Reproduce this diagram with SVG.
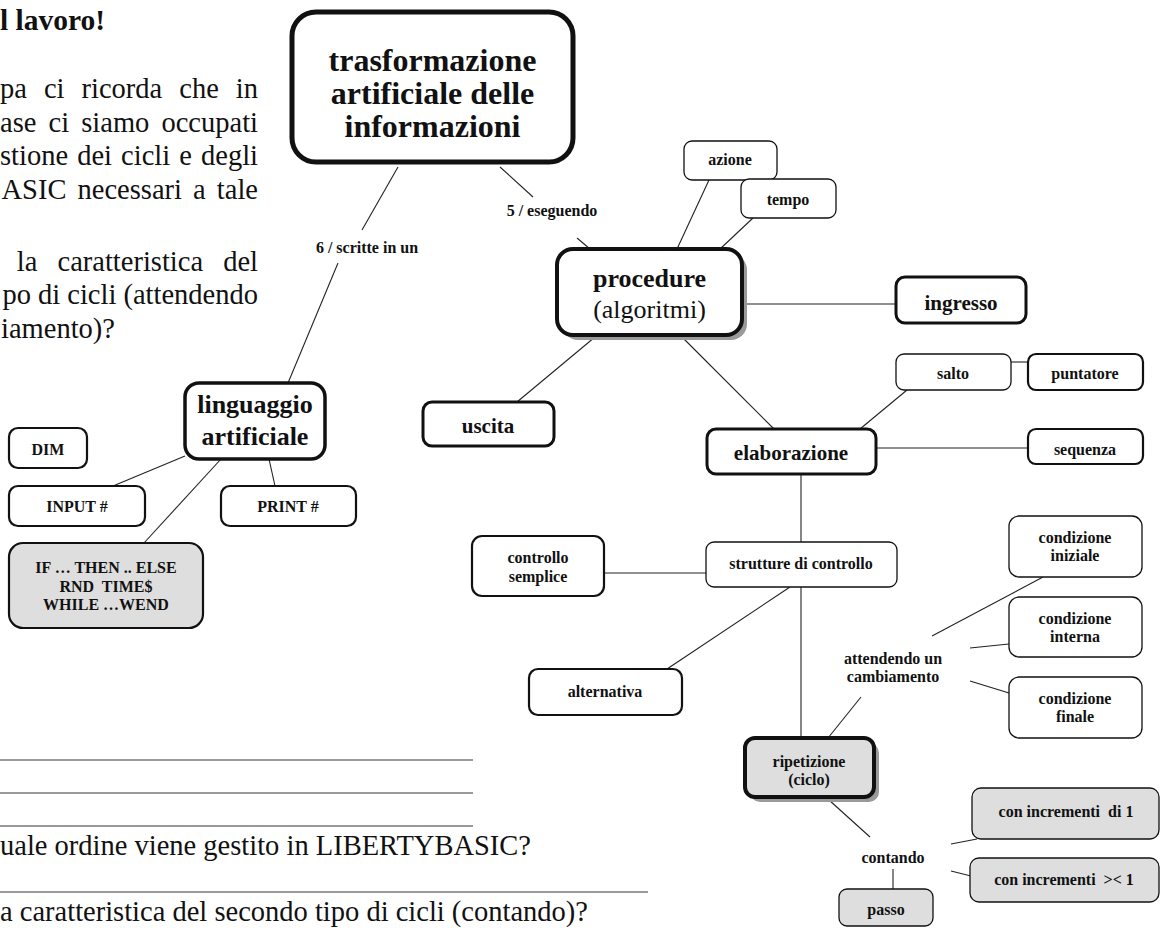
<svg xmlns="http://www.w3.org/2000/svg" width="1161" height="928" viewBox="0 0 1161 928">
  <style>
    text { font-family: "Liberation Serif", serif; fill: #111; }
    .body { font-size: 28.5px; }
    .head { font-size: 29.5px; font-weight: bold; }
    .lbl { font-size: 16px; font-weight: bold; text-anchor: middle; }
    .mid { font-size: 21px; font-weight: bold; text-anchor: middle; }
    .big { font-size: 26px; font-weight: bold; text-anchor: middle; }
    .root { font-size: 32px; font-weight: bold; text-anchor: middle; }
    .box { fill: #fff; stroke: #111; }
    .thin { stroke-width: 1.3; }
    .med { stroke-width: 2.2; }
    .bold { stroke-width: 3; }
    .grey { fill: #dedede; }
    .shadow { fill: #9a9a9a; stroke: none; }
    .rule { stroke: #777; stroke-width: 1.5; }
    #connectors line { stroke: #222; stroke-width: 1.1; }
  </style>

  <!-- worksheet text around the map -->
  <g id="worksheet">
    <text class="head" x="0" y="30">l lavoro!</text>
    <text class="body" x="0" y="98" word-spacing="9.9" textLength="258" lengthAdjust="spacing">pa ci ricorda che in</text>
    <text class="body" x="0" y="132" word-spacing="5" textLength="258" lengthAdjust="spacing">ase ci siamo occupati</text>
    <text class="body" x="0" y="165" word-spacing="2" textLength="258" lengthAdjust="spacing">stione dei cicli e degli</text>
    <text class="body" x="258" y="199" text-anchor="end" word-spacing="4">ASIC necessari a tale</text>
    <text class="body" x="258" y="271" text-anchor="end" word-spacing="13">la caratteristica del</text>
    <text class="body" x="258" y="304" text-anchor="end">po di cicli (attendendo</text>
    <text class="body" x="1" y="338">iamento)?</text>
    <line class="rule" x1="0" y1="760" x2="473" y2="760"/>
    <line class="rule" x1="0" y1="793" x2="473" y2="793"/>
    <line class="rule" x1="0" y1="826" x2="473" y2="826"/>
    <text class="body" x="0" y="855">uale ordine viene gestito in LIBERTYBASIC?</text>
    <line class="rule" x1="0" y1="892" x2="648" y2="892"/>
    <text class="body" x="0" y="921">a caratteristica del secondo tipo di cicli (contando)?</text>
  </g>

  <!-- connectors -->
  <g id="connectors">
    <line x1="398" y1="167" x2="362" y2="230"/>
    <line x1="338" y1="263" x2="288" y2="383"/>
    <line x1="500" y1="167" x2="533" y2="197"/>
    <line x1="577" y1="238" x2="590" y2="249"/>
    <line x1="677" y1="249" x2="709" y2="180"/>
    <line x1="720" y1="249" x2="753" y2="218"/>
    <line x1="744" y1="304" x2="896" y2="304"/>
    <line x1="595" y1="337" x2="517" y2="402"/>
    <line x1="684" y1="339" x2="774" y2="429"/>
    <line x1="860" y1="429" x2="907" y2="390"/>
    <line x1="1011" y1="362" x2="1028" y2="362"/>
    <line x1="876" y1="448" x2="1028" y2="448"/>
    <line x1="801" y1="474" x2="801" y2="542"/>
    <line x1="604" y1="573" x2="706" y2="573"/>
    <line x1="790" y1="587" x2="667" y2="669"/>
    <line x1="801" y1="587" x2="801" y2="738"/>
    <line x1="828" y1="738" x2="861" y2="697"/>
    <line x1="932" y1="636" x2="1043" y2="577"/>
    <line x1="970" y1="648" x2="1009" y2="644"/>
    <line x1="970" y1="681" x2="1009" y2="693"/>
    <line x1="829" y1="800" x2="870" y2="837"/>
    <line x1="893" y1="869" x2="893" y2="889"/>
    <line x1="951" y1="844" x2="977" y2="839"/>
    <line x1="951" y1="871" x2="971" y2="876"/>
    <line x1="185" y1="456" x2="113" y2="486"/>
    <line x1="269" y1="459" x2="275" y2="486"/>
    <line x1="221" y1="459" x2="144" y2="543"/>
  </g>

  <!-- root concept -->
  <g id="trasformazione">
    <rect class="box" x="292" y="12" width="281" height="150" rx="24" stroke-width="5"/>
    <text class="root" x="432.5" y="71">trasformazione</text>
    <text class="root" x="432.5" y="104">artificiale delle</text>
    <text class="root" x="432.5" y="137">informazioni</text>
  </g>

  <!-- linking phrases -->
  <g id="link-scritte"><text class="lbl" x="367" y="253">6 / scritte in un</text></g>
  <g id="link-eseguendo"><text class="lbl" x="552" y="216">5 / eseguendo</text></g>
  <g id="link-attendendo">
    <text class="lbl" x="893" y="664">attendendo un</text>
    <text class="lbl" x="893" y="682">cambiamento</text>
  </g>
  <g id="link-contando"><text class="lbl" x="893" y="863">contando</text></g>

  <g id="procedure">
    <rect class="shadow" x="562" y="254" width="185" height="86" rx="16"/>
    <rect class="box" x="557" y="249" width="185" height="86" rx="16" stroke-width="4"/>
    <text class="big" x="649.5" y="287">procedure</text>
    <text x="649.5" y="318" style="font-size:26px;text-anchor:middle">(algoritmi)</text>
  </g>

  <g id="azione">
    <rect class="box thin" x="684" y="141" width="93" height="39" rx="8"/>
    <text class="lbl" x="730" y="165">azione</text>
  </g>
  <g id="tempo">
    <rect class="box thin" x="741" y="179" width="95" height="39" rx="8"/>
    <text class="lbl" x="788" y="205">tempo</text>
  </g>

  <g id="ingresso">
    <rect class="box bold" x="896" y="277" width="130" height="46" rx="9"/>
    <text class="mid" x="961" y="310">ingresso</text>
  </g>
  <g id="salto">
    <rect class="box thin" x="896" y="354" width="115" height="36" rx="8"/>
    <text class="lbl" x="953" y="379">salto</text>
  </g>
  <g id="puntatore">
    <rect class="box med" x="1028" y="354" width="115" height="36" rx="8"/>
    <text class="lbl" x="1085" y="379">puntatore</text>
  </g>
  <g id="sequenza">
    <rect class="box med" x="1028" y="429" width="115" height="35" rx="8"/>
    <text class="lbl" x="1085" y="455">sequenza</text>
  </g>
  <g id="elaborazione">
    <rect class="box bold" x="707" y="429" width="169" height="45" rx="9"/>
    <text class="mid" x="791" y="460">elaborazione</text>
  </g>
  <g id="uscita">
    <rect class="box bold" x="423" y="402" width="131" height="44" rx="9"/>
    <text class="mid" x="488" y="433">uscita</text>
  </g>

  <g id="controllo-semplice">
    <rect class="box med" x="472" y="536" width="132" height="60" rx="10"/>
    <text class="lbl" x="538" y="563">controllo</text>
    <text class="lbl" x="538" y="582">semplice</text>
  </g>
  <g id="strutture-di-controllo">
    <rect class="box thin" x="706" y="542" width="191" height="45" rx="8"/>
    <text class="lbl" x="801" y="569">strutture di controllo</text>
  </g>
  <g id="alternativa">
    <rect class="box med" x="529" y="669" width="153" height="46" rx="9"/>
    <text class="lbl" x="605" y="697">alternativa</text>
  </g>

  <g id="condizione-iniziale">
    <rect class="box thin" x="1009" y="516" width="133" height="61" rx="10"/>
    <text class="lbl" x="1075" y="543">condizione</text>
    <text class="lbl" x="1075" y="561">iniziale</text>
  </g>
  <g id="condizione-interna">
    <rect class="box thin" x="1009" y="597" width="133" height="60" rx="10"/>
    <text class="lbl" x="1075" y="624">condizione</text>
    <text class="lbl" x="1075" y="642">interna</text>
  </g>
  <g id="condizione-finale">
    <rect class="box thin" x="1009" y="677" width="133" height="61" rx="10"/>
    <text class="lbl" x="1075" y="704">condizione</text>
    <text class="lbl" x="1075" y="722">finale</text>
  </g>

  <g id="ripetizione">
    <rect class="shadow" x="750" y="743" width="129" height="59" rx="10"/>
    <rect class="box grey" x="745" y="738" width="129" height="59" rx="10" stroke-width="4"/>
    <text class="lbl" x="809" y="767">ripetizione</text>
    <text class="lbl" x="809" y="785">(ciclo)</text>
  </g>
  <g id="incrementi-1">
    <rect class="box grey thin" x="972" y="788" width="187" height="51" rx="9"/>
    <text class="lbl" x="1066" y="817" xml:space="preserve">con incrementi  di 1</text>
  </g>
  <g id="incrementi-diversi">
    <rect class="box grey thin" x="970" y="858" width="189" height="44" rx="9"/>
    <text class="lbl" x="1064" y="885" xml:space="preserve">con incrementi  &gt;&lt; 1</text>
  </g>
  <g id="passo">
    <rect class="box grey thin" x="839" y="889" width="94" height="37" rx="8"/>
    <text class="lbl" x="886" y="915">passo</text>
  </g>

  <g id="linguaggio">
    <rect class="box" x="185" y="383" width="140" height="76" rx="14" stroke-width="3.5"/>
    <text class="big" x="255" y="413">linguaggio</text>
    <text class="big" x="255" y="445">artificiale</text>
  </g>
  <g id="dim">
    <rect class="box med" x="9" y="428" width="78" height="40" rx="9"/>
    <text class="lbl" x="48" y="455">DIM</text>
  </g>
  <g id="input">
    <rect class="box med" x="9" y="486" width="136" height="40" rx="9"/>
    <text class="lbl" x="77" y="512">INPUT #</text>
  </g>
  <g id="print">
    <rect class="box med" x="221" y="486" width="135" height="40" rx="9"/>
    <text class="lbl" x="288" y="512">PRINT #</text>
  </g>
  <g id="istruzioni">
    <rect class="box grey med" x="9" y="543" width="194" height="85" rx="14"/>
    <text class="lbl" x="106" y="573">IF … THEN .. ELSE</text>
    <text class="lbl" x="106" y="592" xml:space="preserve">RND  TIME$</text>
    <text class="lbl" x="106" y="610">WHILE …WEND</text>
  </g>
</svg>
